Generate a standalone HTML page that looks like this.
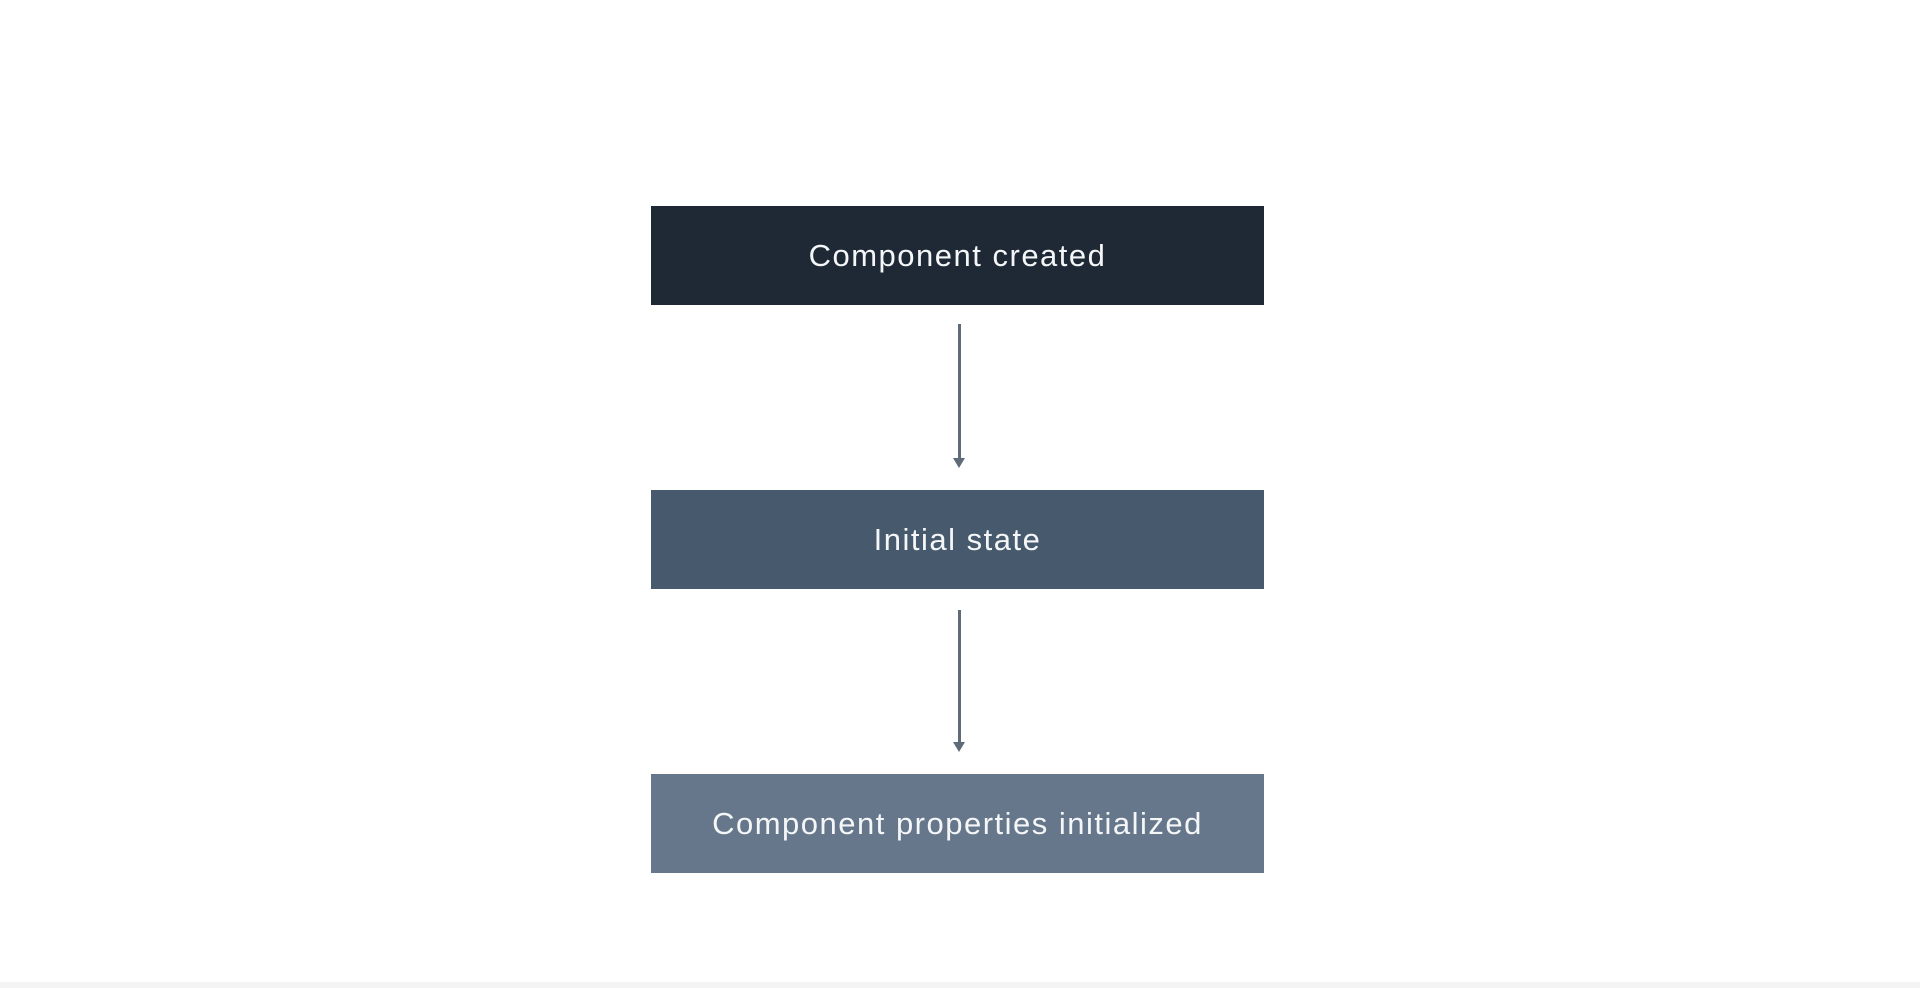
<!DOCTYPE html>
<html><head><style>
html,body{margin:0;padding:0;width:1920px;height:988px;background:#fff;overflow:hidden;font-family:"Liberation Sans",sans-serif;}
.b{position:absolute;left:651px;width:613px;height:99px;color:#f4f6f8;font-size:31px;letter-spacing:1.5px;display:flex;align-items:center;justify-content:center;}
.l{position:absolute;left:958px;width:3px;background:#5f6b78;}
.h{position:absolute;left:953px;width:0;height:0;border-left:6px solid transparent;border-right:6px solid transparent;border-top:10px solid #5f6b78;}
</style></head><body>
<div class="b" style="top:206px;background:#1e2935">Component created</div>
<div class="l" style="top:324px;height:136px"></div><div class="h" style="top:458px"></div>
<div class="b" style="top:490px;background:#475a6d">Initial state</div>
<div class="l" style="top:610px;height:134px"></div><div class="h" style="top:742px"></div>
<div class="b" style="top:774px;background:#66778b">Component properties initialized</div>
<div style="position:absolute;left:0;top:982px;width:1920px;height:6px;background:#f4f4f4"></div>
</body></html>
